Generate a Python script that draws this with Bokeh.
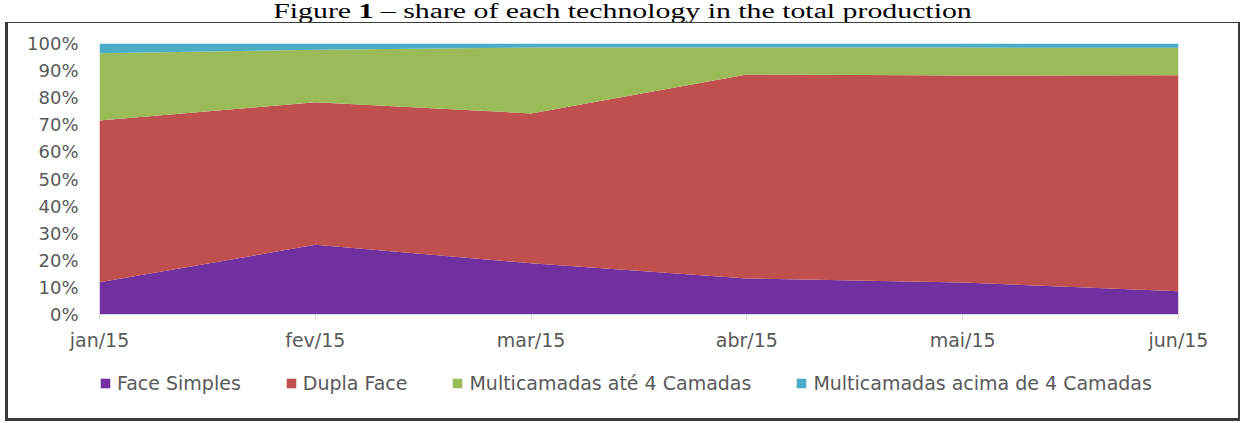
from bokeh.plotting import figure
from bokeh.models import (Div, Legend, LegendItem, FixedTicker, NumeralTickFormatter,
                          Range1d, ColumnDataSource)
from bokeh.layouts import column
from bokeh.embed import file_html
from bokeh.resources import INLINE

months = ["jan/15", "fev/15", "mar/15", "abr/15", "mai/15", "jun/15"]
face_simples = [11.9, 25.7, 18.9, 13.3, 11.8, 8.6]
dupla_face = [59.7, 52.6, 55.3, 75.3, 76.4, 79.7]
multi_ate_4 = [24.8, 19.4, 24.3, 9.9, 10.3, 10.1]
multi_acima_4 = [3.6, 2.3, 1.5, 1.5, 1.5, 1.6]
series_names = ["Face Simples", "Dupla Face", "Multicamadas até 4 Camadas",
                "Multicamadas acima de 4 Camadas"]
colors = ["#7030A0", "#C0504D", "#9BBB59", "#4BACC6"]
y_ticks = [0, 0.1, 0.2, 0.3, 0.4, 0.5, 0.6, 0.7, 0.8, 0.9, 1.0]

series = [face_simples, dupla_face, multi_ate_4, multi_acima_4]
keys = ["s0", "s1", "s2", "s3"]
data = {"x": list(range(len(months)))}
for k, s in zip(keys, series):
    data[k] = [v / 100.0 for v in s]
source = ColumnDataSource(data)

FONT = "DejaVu Sans"
GRAY = "#595959"
W = 1230

p = figure(width=W, height=349, output_backend="svg", toolbar_location=None,
           x_range=Range1d(0, len(months) - 1), y_range=Range1d(0, 1),
           min_border_left=91, min_border_right=60, min_border_top=20,
           min_border_bottom=58, margin=(0, 0, 0, 0))
p.outline_line_color = None
p.grid.visible = False
p.background_fill_color = "white"
p.border_fill_color = "white"

rs = p.varea_stack(keys, x="x", color=colors, source=source)

# y axis
p.yaxis.ticker = FixedTicker(ticks=y_ticks)
p.yaxis.formatter = NumeralTickFormatter(format="0%")
p.yaxis.axis_line_color = None
p.yaxis.major_tick_line_color = None
p.yaxis.minor_tick_line_color = None
p.yaxis.major_label_standoff = 15
p.yaxis.major_label_text_font = FONT
p.yaxis.major_label_text_font_size = "18px"
p.yaxis.major_label_text_color = GRAY

# x axis
p.xaxis.ticker = FixedTicker(ticks=list(range(len(months))))
p.xaxis.major_label_overrides = {i: m for i, m in enumerate(months)}
p.xaxis.axis_line_color = "#D9D9D9"
p.xaxis.major_tick_line_color = "#D9D9D9"
p.xaxis.major_tick_out = 5
p.xaxis.major_tick_in = 0
p.xaxis.minor_tick_line_color = None
p.xaxis.major_label_standoff = 9
p.xaxis.major_label_text_font = FONT
p.xaxis.major_label_text_font_size = "19px"
p.xaxis.major_label_text_color = GRAY

# legend strip (same series, drawn outside its visible range so only the key shows)
pl = figure(width=W, height=46, output_backend="svg", toolbar_location=None,
            x_range=Range1d(0, len(months) - 1), y_range=Range1d(10, 11),
            x_axis_type=None, y_axis_type=None,
            min_border_left=91, min_border_right=0, min_border_top=0,
            min_border_bottom=0, margin=(0, 0, 0, 0))
pl.outline_line_color = None
pl.grid.visible = False
rl = pl.varea_stack(keys, x="x", color=colors, source=source)

items = [LegendItem(label=n, renderers=[r]) for n, r in zip(series_names, rl)]
legend = Legend(items=items, orientation="horizontal", location="top_left",
                spacing=44, label_standoff=6, glyph_width=12, glyph_height=12,
                padding=0, margin=0, border_line_color=None,
                background_fill_alpha=0,
                label_text_font=FONT, label_text_font_size="19px",
                label_text_color=GRAY)
pl.add_layout(legend)

title = Div(text=("<div style=\"font-family:'Liberation Serif';font-size:20px;"
                  "line-height:10px;padding-top:6px;text-align:center;width:1245px;color:#000;"
                  "transform:scaleX(1.49);transform-origin:center;white-space:nowrap;\">"
                  "Figure <b>1</b> – share of each technology in the total production</div>"),
            width=1245, height=22, margin=(0, 0, 0, 0),
            styles={"overflow": "visible"})

box = column(p, pl, spacing=0, margin=(0, 0, 0, 5),
             styles={"border-left": "3px solid #3a3a3a", "border-bottom": "3px solid #3a3a3a",
                     "border-top": "1px solid #3a3a3a", "border-right": "2px solid #3a3a3a"})

layout = column(title, box, spacing=0, margin=(0, 0, 0, 0))
open("out.html", "w").write(file_html(layout, INLINE))
